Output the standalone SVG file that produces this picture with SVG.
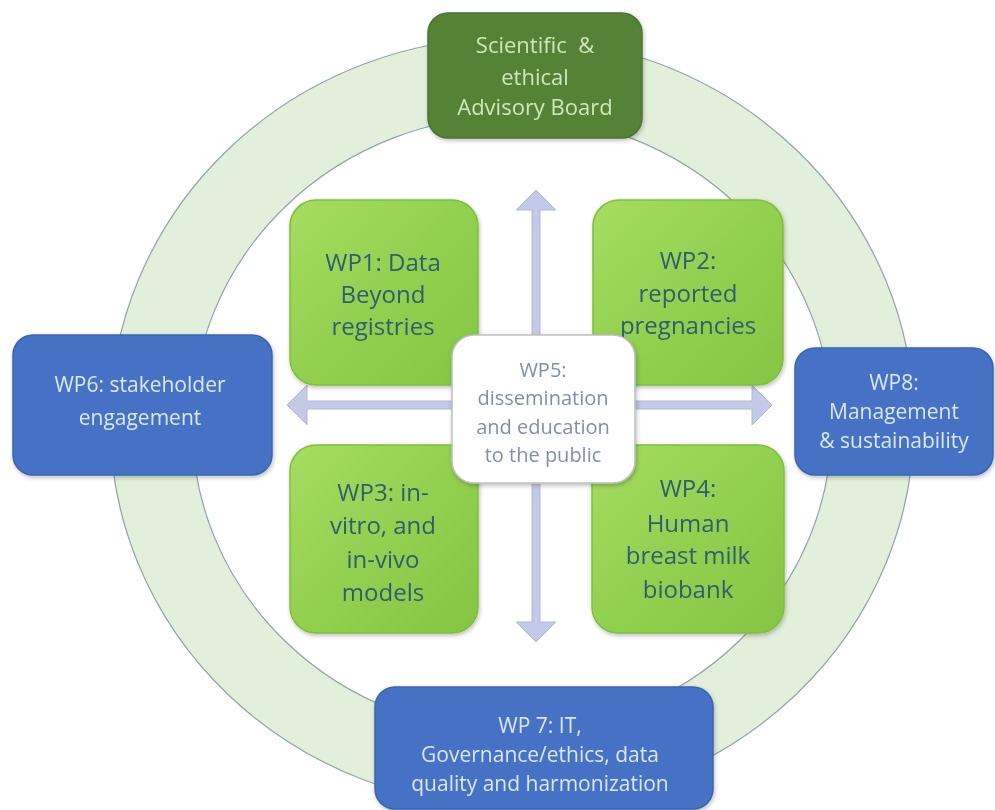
<svg xmlns="http://www.w3.org/2000/svg" width="995" height="810" viewBox="0 0 995 810">
<style>
.ring{fill:#e2efda;stroke:#8fa3a6;stroke-width:1.2;fill-rule:evenodd}
.green{fill:url(#gG);stroke:#7fbf3a;stroke-width:1.5}
.blue{fill:#4472c4;stroke:#3a64b0;stroke-width:1.5}
.sab{fill:#548235;stroke:#4a7430;stroke-width:1.5}
.wp5{fill:#ffffff;stroke:#bfbfbf;stroke-width:1.5}
text{font-family:"Open Sans","Liberation Sans",Arial,sans-serif;text-anchor:middle;white-space:pre}
.tg{fill:#2e5f70;font-size:24px}
.tb{fill:#dce6f4;font-size:21px}
.ts{fill:#cde8b8;font-size:22px}
.t5{fill:#7f8faa;font-size:20px}
.arrow{fill:#c3c9e6;stroke:#b0b8dc;stroke-width:1}
</style>
<defs>
<linearGradient id="gG" x1="0" y1="0" x2="1" y2="1">
<stop offset="0" stop-color="#a6dd60"/>
<stop offset="0.5" stop-color="#92d050"/>
<stop offset="1" stop-color="#86c444"/>
</linearGradient>
<filter id="sh" x="-10%" y="-10%" width="120%" height="125%">
<feDropShadow dx="1" dy="2" stdDeviation="2" flood-color="#000" flood-opacity="0.25"/>
</filter>
</defs>
<rect width="995" height="810" fill="#ffffff"/>
<path class="ring" d="M110,422 a402,385 0 1,0 804,0 a402,385 0 1,0 -804,0 Z M192,424 a320,308 0 1,0 640,0 a320,308 0 1,0 -640,0 Z"/>
<g id="connectors">
<path class="arrow" d="M536,190 L556,210 L540,210 L540,622 L556,622 L536,642 L516,622 L532,622 L532,210 L516,210 Z"/>
<path class="arrow" d="M287,405 L307,385 L307,401 L752,401 L752,385 L772,405 L752,425 L752,409 L307,409 L307,425 Z"/>
</g>
<g id="wp1" filter="url(#sh)">
<rect class="green" x="290" y="200" width="188" height="185" rx="26"/>
<text class="tg" x="383" y="271">WP1: Data</text>
<text class="tg" x="383" y="303">Beyond</text>
<text class="tg" x="383" y="335">registries</text>
</g>
<g id="wp2" filter="url(#sh)">
<rect class="green" x="593" y="200" width="190" height="185" rx="26"/>
<text class="tg" x="688" y="269">WP2:</text>
<text class="tg" x="688" y="302">reported</text>
<text class="tg" x="688" y="334">pregnancies</text>
</g>
<g id="wp3" filter="url(#sh)">
<rect class="green" x="290" y="445" width="188" height="188" rx="26"/>
<text class="tg" x="383" y="501">WP3: in-</text>
<text class="tg" x="383" y="534">vitro, and</text>
<text class="tg" x="383" y="568">in-vivo</text>
<text class="tg" x="383" y="601">models</text>
</g>
<g id="wp4" filter="url(#sh)">
<rect class="green" x="592" y="445" width="192" height="188" rx="26"/>
<text class="tg" x="688" y="497">WP4:</text>
<text class="tg" x="688" y="532">Human</text>
<text class="tg" x="688" y="564">breast milk</text>
<text class="tg" x="688" y="598">biobank</text>
</g>
<g id="wp5" filter="url(#sh)">
<rect class="wp5" x="452" y="335" width="183" height="148" rx="22"/>
<text class="t5" x="543" y="377">WP5:</text>
<text class="t5" x="543" y="405">dissemination</text>
<text class="t5" x="543" y="434">and education</text>
<text class="t5" x="543" y="462">to the public</text>
</g>
<g id="sab" filter="url(#sh)">
<rect class="sab" x="428" y="13" width="214" height="125" rx="20"/>
<text class="ts" x="535" y="53">Scientific  &amp;</text>
<text class="ts" x="535" y="85">ethical</text>
<text class="ts" x="535" y="115">Advisory Board</text>
</g>
<g id="wp6" filter="url(#sh)">
<rect class="blue" x="13" y="335" width="259" height="140" rx="20"/>
<text class="tb" x="140" y="392">WP6: stakeholder</text>
<text class="tb" x="140" y="425">engagement</text>
</g>
<g id="wp8" filter="url(#sh)">
<rect class="blue" x="795" y="348" width="198" height="127" rx="20"/>
<text class="tb" x="894" y="390">WP8:</text>
<text class="tb" x="894" y="419">Management</text>
<text class="tb" x="894" y="448">&amp; sustainability</text>
</g>
<g id="wp7" filter="url(#sh)">
<rect class="blue" x="375" y="687" width="338" height="122" rx="20"/>
<text class="tb" x="540" y="733">WP 7: IT,</text>
<text class="tb" x="540" y="762">Governance/ethics, data</text>
<text class="tb" x="540" y="791">quality and harmonization</text>
</g>
</svg>
